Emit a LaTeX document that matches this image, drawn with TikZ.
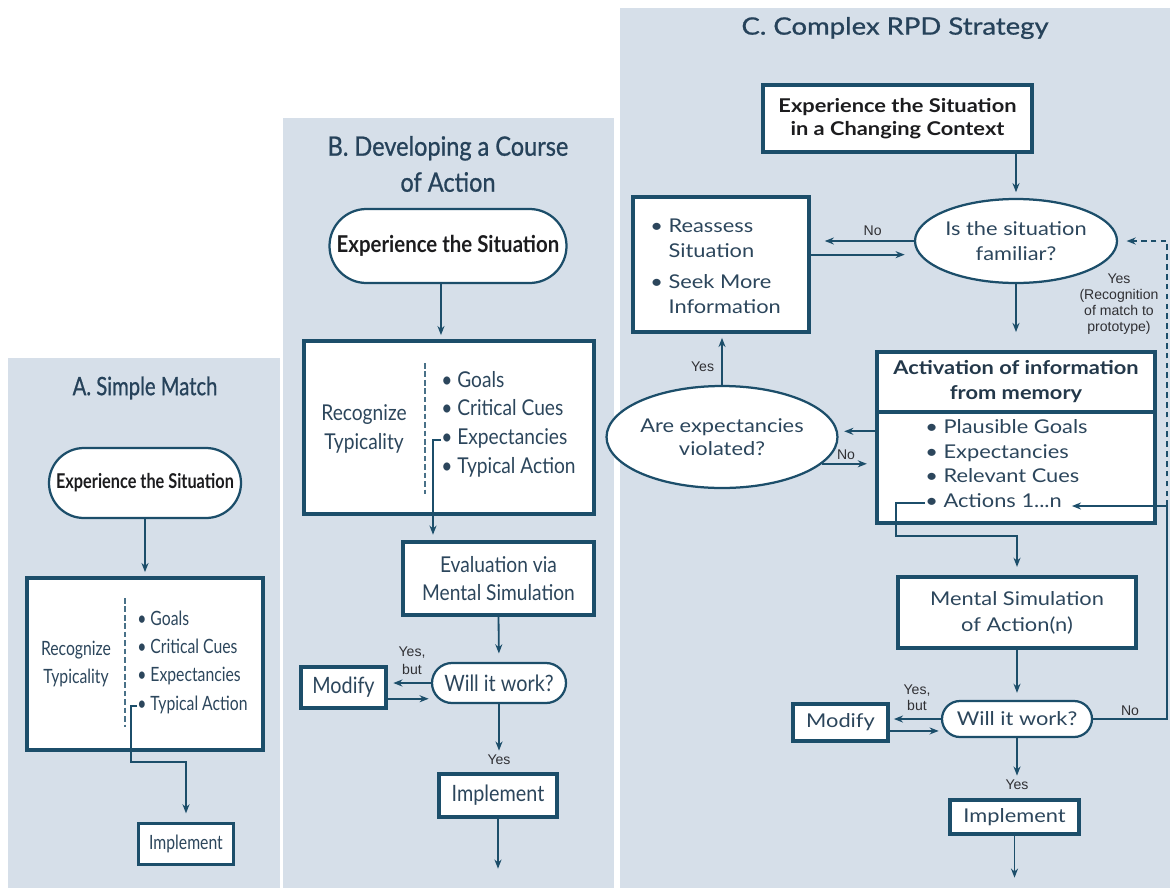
\documentclass[tikz,border=0pt]{standalone}
\usepackage{fontspec}
\setmainfont{Lato}
\newfontfamily\fontA[FakeStretch=0.8]{Lato}
\newfontfamily\fontB[FakeStretch=0.88]{Lato}
\newfontfamily\fontC[FakeStretch=1.15]{Lato}
\newfontfamily\headA[FakeStretch=0.8,FakeBold=0.8]{Lato}
\newfontfamily\headB[FakeStretch=0.88,FakeBold=0.8]{Lato}
\newfontfamily\headC[FakeStretch=1.15,FakeBold=0.8]{Lato}
\newfontfamily\lblfont{Liberation Sans}
\usetikzlibrary{positioning,calc,shapes.geometric,shapes.misc,arrows.meta}
\definecolor{panelbg}{RGB}{214,223,233}
\definecolor{linecol}{RGB}{28,78,106}
\definecolor{bodycol}{RGB}{44,70,92}
\definecolor{ttlcol}{RGB}{38,66,90}
\definecolor{expcol}{RGB}{28,28,30}
\definecolor{lblcol}{RGB}{48,48,52}
\newlength\pxu
\setlength\pxu{0.025cm}
\newcommand{\setfs}[2]{\fontsize{#1}{#2}\selectfont}
\tikzset{
panel/.style={fill=panelbg},
ttl/.style={text=ttlcol,align=center,inner sep=0pt},
sbox/.style={draw=linecol,line width=2.4pt,fill=white,inner sep=0pt,align=center,text=bodycol},
pill/.style={rounded rectangle,draw=linecol,line width=1.6pt,fill=white,inner sep=0pt,align=center,text=bodycol},
oval/.style={ellipse,draw=linecol,line width=1.6pt,fill=white,inner sep=0pt,align=center,text=bodycol},
item/.style={anchor=west,inner sep=0pt,text=bodycol,text height=1.5ex,text depth=.25ex},
lbl/.style={font={\lblfont\setfs{10}{11.5}},text=lblcol,inner sep=1pt,align=center},
arr/.style={-{Stealth[length=6.5pt,width=5pt]},draw=linecol,line width=1.3pt},
dline/.style={draw=linecol!80,dash pattern=on 4pt off 2pt,line width=0.8pt}
}

\begin{document}
\begin{tikzpicture}[x=0.025cm,y=-0.025cm]
\useasboundingbox (0,0) rectangle (1170,888);
\fill[panel] (8,358) rectangle (280,888);
\fill[panel] (283,118) rectangle (614,888);
\fill[panel] (620,8) rectangle (1170,888);

% A. Simple Match
\node[ttl,font=\headA\setfs{18}{20}] (tA) at (145,388) {A. Simple Match};
\node[pill,minimum width=192\pxu,minimum height=70\pxu,text=expcol,font=\fontA\bfseries\setfs{14.5}{17}] (eA) at (145,483) {Experience the Situation};
\node[sbox,minimum width=236\pxu,minimum height=172\pxu] (rA) at (145,664) {};
\draw[dline] (125,598) -- (125,727);
\node[text=bodycol,align=center,font=\fontA\setfs{14}{20.5}] (gA) at (76,664) {Recognize\\Typicality};
\node[item,font=\fontA\setfs{14}{17}] (iA1) at (137,621) {\textbullet\ Goals};
\node[item,font=\fontA\setfs{14}{17}] (iA2) at (137,649) {\textbullet\ Critical Cues};
\node[item,font=\fontA\setfs{14}{17}] (iA3) at (137,677) {\textbullet\ Expectancies};
\node[item,font=\fontA\setfs{14}{17}] (iA4) at (137,706) {\textbullet\ Typical Action};
\node[sbox,minimum width=95\pxu,minimum height=41\pxu,font=\fontA\setfs{14}{17}] (mA) at (186,844) {Implement};
\draw[arr,shorten >=3pt] (eA.south) -- (rA.north);
\draw[arr,shorten >=6pt] (iA4.west) -- ++(-6,0) -- ++(0,56) -| (mA.north);

% B. Developing a Course of Action
\node[ttl,font=\headB\setfs{19}{25.6}] (tB) at (448,164) {B. Developing a Course\\of Action};
\node[pill,minimum width=237\pxu,minimum height=74\pxu,text=expcol,font=\fontB\bfseries\setfs{16.5}{19}] (eB) at (448,246) {Experience the Situation};
\node[sbox,minimum width=290\pxu,minimum height=173\pxu] (rB) at (449,427.5) {};
\draw[dline] (425,363) -- (425,494);
\node[text=bodycol,align=center,font=\fontB\setfs{15.5}{20.6}] (gB) at (364,429) {Recognize\\Typicality};
\node[item,font=\fontB\setfs{15.5}{18}] (iB1) at (441,383) {\textbullet\ Goals};
\node[item,font=\fontB\setfs{15.5}{18}] (iB2) at (441,411) {\textbullet\ Critical Cues};
\node[item,font=\fontB\setfs{15.5}{18}] (iB3) at (441,440) {\textbullet\ Expectancies};
\node[item,font=\fontB\setfs{15.5}{18}] (iB4) at (441,469) {\textbullet\ Typical Action};
\node[sbox,minimum width=191\pxu,minimum height=73\pxu,font=\fontB\setfs{15.5}{20}] (vB) at (498.5,578.5) {Evaluation via\\Mental Simulation};
\node[pill,minimum width=134\pxu,minimum height=40\pxu,font=\fontB\setfs{16}{18}] (wB) at (499,683) {Will it work?};
\node[sbox,minimum width=85\pxu,minimum height=41\pxu,font=\fontB\setfs{16}{18}] (dB) at (343.5,687.5) {Modify};
\node[lbl,font={\lblfont\setfs{10}{13}}] (ybB) at (412,661) {Yes,\\but};
\node[lbl] (yB) at (499,760) {Yes};
\node[sbox,minimum width=118\pxu,minimum height=43\pxu,font=\fontB\setfs{16}{18}] (mB) at (498,795.5) {Implement};
\draw[arr,shorten >=3pt] ([xshift=-5pt]eB.south) -- ([xshift=-5pt]eB.south |- rB.north);
\draw[arr,shorten >=4pt] (iB3.west) -- ++(-8,0) coordinate (kB) -- (kB |- vB.north);
\draw[arr,shorten >=6pt] (vB.south) -- (wB.north);
\draw[arr,shorten >=4pt] (wB.west) -- (wB.west -| dB.east);
\draw[arr] ([yshift=-8pt]dB.east) -- ++(41,0);
\draw[arr,shorten >=2pt] (wB.south) -- (yB.north);
\draw[arr] (mB.south) -- ++(0,50);

% C. Complex RPD Strategy
\node[ttl,font=\headC\setfs{17}{20}] (tC) at (895,28) {C. Complex RPD Strategy};
\node[sbox,minimum width=269\pxu,minimum height=67\pxu,text=expcol,font=\fontC\bfseries\setfs{13.5}{16.4}] (eC) at (897.5,118.5) {Experience the Situation\\in a Changing Context};
\node[oval,minimum width=202\pxu,minimum height=84\pxu,font=\fontC\setfs{13.5}{17.8}] (fC) at (1016,241) {Is the situation\\familiar?};
\node[sbox,minimum width=176\pxu,minimum height=135\pxu] (rC) at (721,264.5) {};
\node[anchor=west,inner sep=0pt,text=bodycol,align=left,font=\fontC\setfs{13.5}{17.8}] (lC) at (650,266) {\textbullet\ Reassess\\\hphantom{\textbullet\ }Situation\\[4pt]\textbullet\ Seek More\\\hphantom{\textbullet\ }Information};
\node[sbox,minimum width=278\pxu,minimum height=60\pxu,text=bodycol!80!black,font=\fontC\bfseries\setfs{13.5}{17.8}] (aH) at (1016,382) {Activation of information\\from memory};
\node[sbox,minimum width=278\pxu,minimum height=111\pxu] (aL) at (1016,467.5) {};
\node[item,font=\fontC\setfs{13.5}{16}] (iC1) at (925,429) {\textbullet\ Plausible Goals};
\node[item,font=\fontC\setfs{13.5}{16}] (iC2) at (925,454) {\textbullet\ Expectancies};
\node[item,font=\fontC\setfs{13.5}{16}] (iC3) at (925,478) {\textbullet\ Relevant Cues};
\node[item,font=\fontC\setfs{13.5}{16}] (iC4) at (925,503) {\textbullet\ Actions 1...n};
\node[oval,minimum width=200\pxu,minimum height=102\pxu,font=\fontC\setfs{13.5}{16.4}] (xC) at (722,437) {Are expectancies\\violated?};
\node[lbl,font={\lblfont\setfs{10}{11.2}}] (pC) at (1119,304) {Yes\\(Recognition\\of match to\\prototype)};
\node[sbox,minimum width=238\pxu,minimum height=71\pxu,font=\fontC\setfs{13.5}{18.5}] (sC) at (1017,612.5) {Mental Simulation\\of Action(n)};
\node[pill,minimum width=150\pxu,minimum height=36\pxu,font=\fontC\setfs{13.5}{16}] (wC) at (1017,719) {Will it work?};
\node[sbox,minimum width=95\pxu,minimum height=37\pxu,font=\fontC\setfs{13.5}{16}] (dC) at (840.5,722.5) {Modify};
\node[lbl] (ybC) at (917,698) {Yes,\\but};
\node[lbl] (yC) at (1017,785) {Yes};
\node[sbox,minimum width=129\pxu,minimum height=34\pxu,font=\fontC\setfs{13.5}{16}] (mC) at (1014.5,817) {Implement};
\coordinate (rt) at (1167,506);
\draw[arr,shorten >=4pt] (eC.south -| fC.north) -- (fC.north);
\draw[arr,shorten >=10pt] (fC.west) -- node[lbl,above=2pt,pos=0.4]{No} (fC.west -| rC.east);
\draw[arr] ([yshift=7pt]rC.east) -- ++(94,0);
\draw[arr,shorten >=13pt] (fC.south) -- (aH.north);
\draw[arr,shorten >=4pt] ($(aL.north west)+(0,21)$) coordinate (kC) -- (kC -| xC.east);
\draw[arr,shorten >=6pt] (xC.-15) -- node[lbl,above=1pt,pos=0.45]{No} (xC.-15 -| aL.west);
\draw[arr,shorten >=3pt] (xC.north) -- node[lbl,left=4pt,pos=0.35]{Yes} (xC.north |- rC.south);
\draw[arr,shorten >=6pt] (iC4.west) -- ++(-29,0) -- ++(0,33) -| (sC.north);
\draw[arr,shorten >=5pt] (sC.south) -- (wC.north);
\draw[arr,shorten >=3pt] (wC.west) -- (wC.west -| dC.east);
\draw[arr] ([yshift=-6pt]dC.east) -- ++(49,0);
\draw[arr,shorten >=7pt] (wC.east) -| node[lbl,above=1pt,pos=0.25]{No} (rt) -- (rt -| iC4.east);
\draw[arr,dash pattern=on 4pt off 3pt,shorten >=6pt] (rt) |- (fC.east);
\draw[arr,shorten >=2pt] (wC.south) -- (yC.north);
\draw[arr] (mC.south) -- ++(0,42);
\end{tikzpicture}
\end{document}
